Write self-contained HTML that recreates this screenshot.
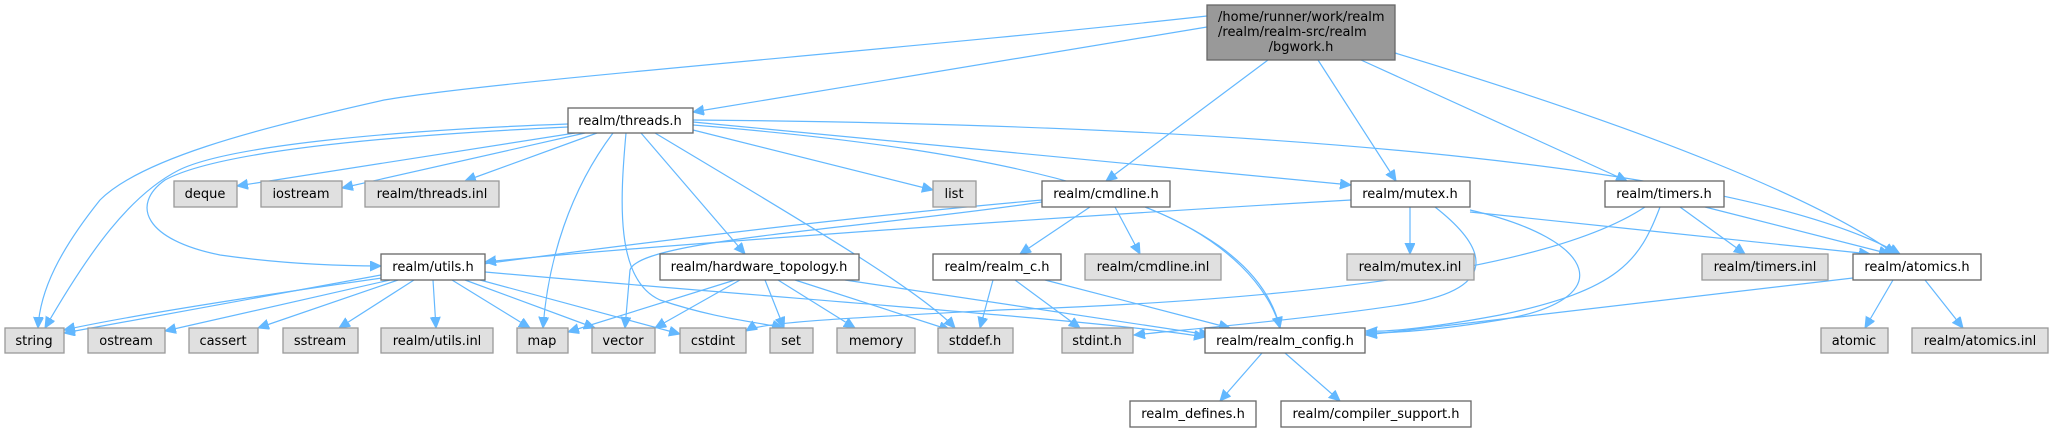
<!DOCTYPE html>
<html><head><meta charset="utf-8"><style>
html,body{margin:0;padding:0;background:#fff;}
svg{display:block;}
text{font-family:"DejaVu Sans","Liberation Sans",sans-serif;font-size:13px;fill:#000;}
.e{fill:none;stroke:#63b8ff;stroke-width:1.2;}
.w{fill:#fff;stroke:#666;stroke-width:1.3;}
.g{fill:#e0e0e0;stroke:#999;stroke-width:1.3;}
</style></head><body>
<svg width="2053" height="432" viewBox="0 0 2053 432" xmlns="http://www.w3.org/2000/svg">
<defs><marker id="a" markerUnits="userSpaceOnUse" markerWidth="12" markerHeight="12" refX="11" refY="5" orient="auto"><path d="M0,0 L11,5 L0,10 z" fill="#63b8ff" stroke="#63b8ff"/></marker></defs>
<g class="e" marker-end="url(#a)">
<path d="M1207,16 C900,50 500,80 384,100 C250,130 140,160 100,200 C60,250 40,290 38,328"/>
<path d="M1207,27 L693,112"/>
<path d="M1268,60 L1106,181"/>
<path d="M1318,60 L1396,181"/>
<path d="M1361,60 L1627,181"/>
<path d="M1395,53 C1650,130 1820,200 1895,254"/>
<path d="M568,124 C400,130 230,145 179,170 C130,195 90,250 45,328"/>
<path d="M568,127 C400,135 220,150 165,180 C130,205 145,240 220,255 C290,265 350,266 381,266"/>
<path d="M575,133 L237,186"/>
<path d="M585,133 L342,188"/>
<path d="M597,133 L465,181"/>
<path d="M613,133 C570,190 548,260 543,328"/>
<path d="M626,133 C620,200 615,280 660,300 C720,320 760,322 783,328"/>
<path d="M641,133 L745,254"/>
<path d="M655,133 C800,220 920,290 955,328"/>
<path d="M693,130 L933,190"/>
<path d="M693,122 L1351,185"/>
<path d="M693,125 C1000,150 1250,200 1280,328"/>
<path d="M693,120 C1300,125 1750,170 1900,254"/>
<path d="M1042,200 C700,230 200,300 64,330"/>
<path d="M1042,202 C850,230 640,240 630,270 L625,328"/>
<path d="M1090,207 L1020,254"/>
<path d="M1115,207 L1140,254"/>
<path d="M1145,207 C1230,240 1270,290 1280,328"/>
<path d="M1351,200 C1000,220 600,250 485,262"/>
<path d="M1410,207 L1410,254"/>
<path d="M1435,207 C1490,250 1500,290 1400,305 C1300,320 1180,330 1134,335"/>
<path d="M1470,210 C1600,240 1620,300 1500,320 C1420,333 1380,333 1366,333"/>
<path d="M1470,212 L1870,254"/>
<path d="M1680,207 L1745,254"/>
<path d="M1705,207 L1890,254"/>
<path d="M1645,207 C1550,270 1300,300 1000,310 C850,318 760,322 746,331"/>
<path d="M1660,207 C1640,260 1620,290 1500,315 C1420,330 1380,332 1366,331"/>
<path d="M381,275 L64,333"/>
<path d="M390,280 L165,331"/>
<path d="M398,280 L258,328"/>
<path d="M414,280 L339,328"/>
<path d="M433,280 L436,328"/>
<path d="M452,280 L530,328"/>
<path d="M465,280 L595,328"/>
<path d="M480,280 L680,334"/>
<path d="M485,272 C800,300 1100,320 1205,337"/>
<path d="M735,280 L568,332"/>
<path d="M740,280 L655,328"/>
<path d="M765,280 L784,328"/>
<path d="M778,280 L855,328"/>
<path d="M795,280 L950,330"/>
<path d="M845,280 L1210,335"/>
<path d="M993,280 L980,328"/>
<path d="M1015,280 L1080,328"/>
<path d="M1045,280 L1230,328"/>
<path d="M1893,280 L1865,328"/>
<path d="M1925,280 L1963,328"/>
<path d="M1853,278 L1366,335"/>
<path d="M1262,353 L1220,401"/>
<path d="M1285,353 L1340,401"/>
</g>
<rect x="1207" y="5" width="188" height="55" fill="#999" stroke="#666" stroke-width="1.3"/>
<text x="1218" y="21">/home/runner/work/realm</text>
<text x="1218" y="36">/realm/realm-src/realm</text>
<text x="1301" y="51" text-anchor="middle">/bgwork.h</text>
<g text-anchor="middle">
<rect class="w" x="568" y="108" width="125" height="25"/><text x="630" y="125">realm/threads.h</text>
<rect class="g" x="174" y="181" width="63" height="26"/><text x="205" y="198">deque</text>
<rect class="g" x="261" y="181" width="81" height="26"/><text x="301" y="198">iostream</text>
<rect class="g" x="365" y="181" width="134" height="26"/><text x="432" y="198">realm/threads.inl</text>
<rect class="g" x="933" y="181" width="43" height="26"/><text x="954" y="198">list</text>
<rect class="w" x="1042" y="181" width="128" height="26"/><text x="1106" y="198">realm/cmdline.h</text>
<rect class="w" x="1351" y="181" width="119" height="26"/><text x="1410" y="198">realm/mutex.h</text>
<rect class="w" x="1605" y="181" width="119" height="26"/><text x="1664" y="198">realm/timers.h</text>
<rect class="w" x="381" y="254" width="104" height="26"/><text x="433" y="271">realm/utils.h</text>
<rect class="w" x="660" y="254" width="199" height="26"/><text x="759" y="271">realm/hardware_topology.h</text>
<rect class="w" x="933" y="254" width="128" height="26"/><text x="997" y="271">realm/realm_c.h</text>
<rect class="g" x="1085" y="254" width="136" height="26"/><text x="1153" y="271">realm/cmdline.inl</text>
<rect class="g" x="1347" y="254" width="127" height="26"/><text x="1410" y="271">realm/mutex.inl</text>
<rect class="g" x="1702" y="254" width="126" height="26"/><text x="1765" y="271">realm/timers.inl</text>
<rect class="w" x="1853" y="254" width="128" height="26"/><text x="1917" y="271">realm/atomics.h</text>
<rect class="g" x="5" y="328" width="59" height="25"/><text x="34" y="345">string</text>
<rect class="g" x="88" y="328" width="77" height="25"/><text x="126" y="345">ostream</text>
<rect class="g" x="189" y="328" width="69" height="25"/><text x="223" y="345">cassert</text>
<rect class="g" x="283" y="328" width="75" height="25"/><text x="320" y="345">sstream</text>
<rect class="g" x="381" y="328" width="112" height="25"/><text x="437" y="345">realm/utils.inl</text>
<rect class="g" x="517" y="328" width="51" height="25"/><text x="542" y="345">map</text>
<rect class="g" x="592" y="328" width="63" height="25"/><text x="623" y="345">vector</text>
<rect class="g" x="680" y="328" width="66" height="25"/><text x="713" y="345">cstdint</text>
<rect class="g" x="770" y="328" width="43" height="25"/><text x="791" y="345">set</text>
<rect class="g" x="837" y="328" width="78" height="25"/><text x="876" y="345">memory</text>
<rect class="g" x="938" y="328" width="75" height="25"/><text x="975" y="345">stddef.h</text>
<rect class="g" x="1062" y="328" width="71" height="25"/><text x="1097" y="345">stdint.h</text>
<rect class="w" x="1205" y="328" width="160" height="25"/><text x="1285" y="345">realm/realm_config.h</text>
<rect class="g" x="1821" y="328" width="67" height="25"/><text x="1854" y="345">atomic</text>
<rect class="g" x="1912" y="328" width="136" height="25"/><text x="1980" y="345">realm/atomics.inl</text>
<rect class="w" x="1130" y="401" width="126" height="26"/><text x="1193" y="418">realm_defines.h</text>
<rect class="w" x="1281" y="401" width="190" height="26"/><text x="1376" y="418">realm/compiler_support.h</text>
</g>
</svg>
</body></html>
